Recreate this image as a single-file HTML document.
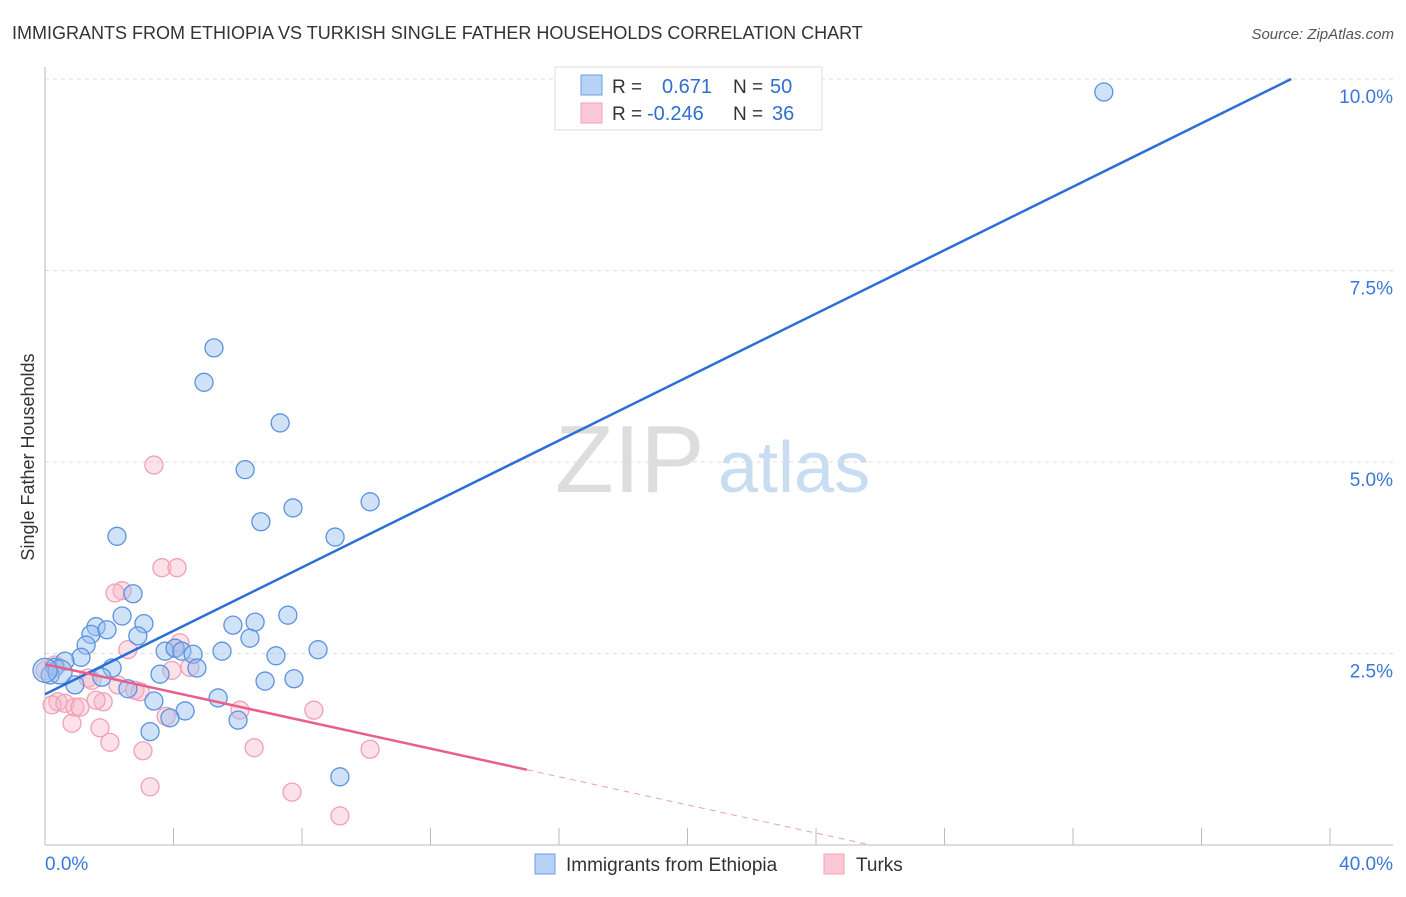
<!DOCTYPE html>
<html><head><meta charset="utf-8"><style>
body{margin:0;background:#fff;font-family:"Liberation Sans",sans-serif;}
svg text{font-family:"Liberation Sans",sans-serif;}
</style></head><body>
<svg id="chart" width="1406" height="892" xmlns="http://www.w3.org/2000/svg">
<text x="12" y="39" font-size="18" fill="#333">IMMIGRANTS FROM ETHIOPIA VS TURKISH SINGLE FATHER HOUSEHOLDS CORRELATION CHART</text>
<text x="1394" y="39" font-size="15" fill="#555" font-style="italic" text-anchor="end">Source: ZipAtlas.com</text>
<text x="0" y="0" transform="translate(34,457) rotate(-90)" font-size="18" fill="#333" text-anchor="middle">Single Father Households</text>
<g><text x="555" y="492" font-size="96" font-family="Liberation Serif" fill="#ddd">ZIP</text><text x="718" y="492" font-size="72" fill="#c8dcf2">atlas</text></g>
<g id="grid"></g><g id="axes"></g><g id="pts"></g><g id="lines"></g>
<g>
<rect x="555" y="67" width="267" height="63" fill="#fff" stroke="#ddd"/>
<rect x="581" y="75" width="21" height="20" fill="#b8d2f4" stroke="#6a9fe0"/>
<rect x="581" y="103" width="21" height="20" fill="#fbc8d6" stroke="#f0a0b8"/>
<text x="612" y="93" font-size="19" fill="#333">R =</text><text x="662" y="93" font-size="20" fill="#2f6fd0">0.671</text>
<text x="733" y="93" font-size="19" fill="#333">N =</text><text x="770" y="93" font-size="20" fill="#2f6fd0">50</text>
<text x="612" y="120" font-size="19" fill="#333">R =</text><text x="647" y="120" font-size="20" fill="#2f6fd0">-0.246</text>
<text x="733" y="120" font-size="19" fill="#333">N =</text><text x="772" y="120" font-size="20" fill="#2f6fd0">36</text>
</g>
<g>
<rect x="535" y="854" width="20" height="20" fill="#b8d2f4" stroke="#6a9fe0"/>
<text x="566" y="871" font-size="19" fill="#333">Immigrants from Ethiopia</text>
<rect x="824" y="854" width="20" height="20" fill="#fbc8d6" stroke="#f0a0b8"/>
<text x="856" y="871" font-size="19" fill="#333">Turks</text>
</g>
</svg>
<script>
const ethX=[32.96,5.26,4.95,7.32,6.23,7.72,6.72,10.12,9.03,2.24,2.74,2.40,3.08,1.59,1.43,1.93,2.89,1.28,7.56,6.54,5.85,6.38,8.50,5.51,3.74,4.05,4.26,4.61,7.19,1.12,0.62,0.31,0.16,2.09,4.73,3.58,1.77,6.85,7.75,0.93,2.58,5.39,3.39,4.36,3.89,6.01,3.27,9.18,0.47,0.0];
const ethY=[9.83,6.49,6.04,5.51,4.90,4.40,4.22,4.48,4.02,4.03,3.28,2.99,2.89,2.85,2.75,2.81,2.73,2.61,3.00,2.91,2.87,2.70,2.55,2.53,2.53,2.57,2.53,2.49,2.47,2.45,2.40,2.32,2.22,2.31,2.31,2.23,2.19,2.14,2.17,2.09,2.04,1.92,1.88,1.75,1.66,1.63,1.48,0.89,2.26,2.28];
const turX=[3.39,3.64,4.11,2.40,2.18,2.58,4.20,4.05,4.51,3.95,1.34,2.27,2.80,2.96,1.46,0.31,0.0,0.40,0.22,0.62,0.93,1.09,1.81,1.59,6.07,8.37,3.77,0.84,1.71,2.02,3.05,6.51,10.12,3.27,7.69,9.18];
const turY=[4.96,3.62,3.62,3.32,3.29,2.55,2.64,2.57,2.32,2.28,2.18,2.09,2.02,2.00,2.15,2.35,2.28,1.87,1.83,1.85,1.80,1.80,1.87,1.89,1.76,1.76,1.68,1.59,1.53,1.34,1.23,1.27,1.25,0.76,0.69,0.38];
const yTicks=[2.5,5.0,7.5,10.0];
const yTickLabels=["2.5%","5.0%","7.5%","10.0%"];
const xTicks=[0,4,8,12,16,20,24,28,32,36,40];
const NS="http://www.w3.org/2000/svg";
const sx=v=>45+v/40*1285, sy=v=>845-v/10*766;
function mk(t,a,p){const e=document.createElementNS(NS,t);for(const k in a)e.setAttribute(k,a[k]);p.appendChild(e);return e;}
const grid=document.getElementById('grid'),axes=document.getElementById('axes'),pts=document.getElementById('pts'),lines=document.getElementById('lines');
yTicks.forEach((v,i)=>{
 const l=mk('line',{x1:45,x2:1393,y1:sy(v),y2:sy(v),stroke:'#ddd','stroke-dasharray':'4,4'},grid);
 
 
 const t=mk('text',{x:1393,y:sy(v)+24,'font-size':19,fill:'#3a78d8','text-anchor':'end'},axes);t.textContent=yTickLabels[i];
 
 
});
const ax=mk('line',{x1:45,x2:45,y1:67,y2:845,stroke:'#bbb'},axes);


const bx=mk('line',{x1:45,x2:1393,y1:845,y2:845,stroke:'#bbb'},axes);


xTicks.forEach(v=>{const t=mk('line',{x1:sx(v),x2:sx(v),y1:828,y2:845,stroke:'#bbb'},axes);
 
 });
const xl0=mk('text',{x:45,y:870,'font-size':19,fill:'#3a78d8'},axes);xl0.textContent=xTicks[0].toFixed(1)+'%';


const xl1=mk('text',{x:1393,y:870,'font-size':19,fill:'#3a78d8','text-anchor':'end'},axes);xl1.textContent=xTicks[xTicks.length-1].toFixed(1)+'%';


function drawPts(X,Y,fill,stroke,name){X.forEach((x,i)=>{const c=mk('circle',{cx:sx(x),cy:sy(Y[i]),r:i>=X.length-2&&x<0.5?12:9,fill:fill,stroke:stroke,'stroke-width':1.3},pts);
 
 });}
drawPts(turX,turY,'rgba(248,180,200,0.4)','#f0a0b8','turks-point');
drawPts(ethX,ethY,'rgba(150,190,240,0.45)','#5b93de','ethiopia-point');
function reg(X,Y){const n=X.length,mx=X.reduce((a,b)=>a+b)/n,my=Y.reduce((a,b)=>a+b)/n;let sxy=0,sxx=0;X.forEach((x,i)=>{sxy+=(x-mx)*(Y[i]-my);sxx+=(x-mx)**2;});const b=sxy/sxx;return [my-b*mx,b];}
const [ab,bb]=reg(ethX,ethY);
let xe=40; if(ab+bb*40>10) xe=(10-ab)/bb;
const bl=mk('line',{x1:sx(0),y1:sy(ab),x2:sx(xe),y2:sy(ab+bb*xe),stroke:'#2b6fd6','stroke-width':2.5},lines);


const [ap,bp]=reg(turX,turY);
const xs=15;
let xd=40; if(ap+bp*40<0) xd=-ap/bp;
const pl=mk('line',{x1:sx(0),y1:sy(ap),x2:sx(xs),y2:sy(ap+bp*xs),stroke:'#e8608a','stroke-width':2.5},lines);


const pd=mk('line',{x1:sx(xs),y1:sy(ap+bp*xs),x2:sx(xd),y2:sy(ap+bp*xd),stroke:'#e8a0b8','stroke-width':1,'stroke-dasharray':'6,5'},lines);


</script>
</body></html>
